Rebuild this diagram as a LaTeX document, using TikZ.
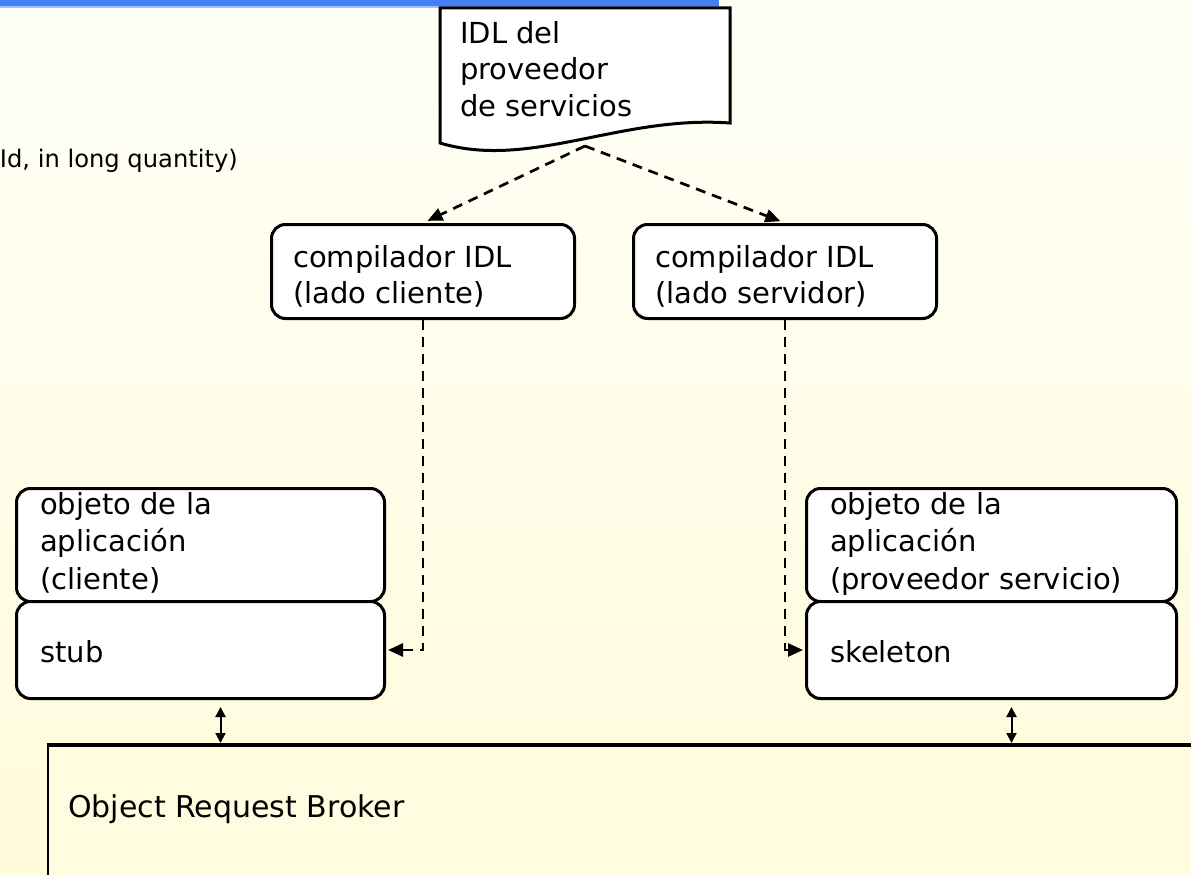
\documentclass[tikz,border=0pt]{standalone}
\usepackage{fontspec}
\setmainfont{DejaVu Sans}
\usetikzlibrary{arrows.meta,calc}
\definecolor{bgtop}{RGB}{255,255,246}
\definecolor{bgbot}{RGB}{255,251,220}
\definecolor{orbfill}{RGB}{255,252,224}
\definecolor{barblue}{RGB}{66,128,245}
\definecolor{barlight}{RGB}{160,190,250}
\begin{document}
\begin{tikzpicture}[x=1pt,y=-1pt,
  box/.style={draw=black, line width=3pt, fill=white, rounded corners=14pt, inner sep=0pt, anchor=north west},
  txt/.style={anchor=north west, inner sep=0pt, align=left, font=\fontsize{29}{36.5}\selectfont},
  objtxt/.style={anchor=north west, inner sep=0pt, align=left, font=\fontsize{29}{37.5}\selectfont},
  onetxt/.style={anchor=base west, inner sep=0pt, font=\fontsize{29}{36}\selectfont},
  dasharrow/.style={line width=2.7pt, dash pattern=on 10pt off 7pt, -{Triangle[length=15pt,width=13pt]}},
  solidarrow/.style={line width=2pt, {Triangle[length=10pt,width=10pt]}-{Triangle[length=10pt,width=10pt]}},
]
\useasboundingbox (0,0) rectangle (1191,875);
\clip (0,0) rectangle (1191,875);
\shade[top color=bgtop, bottom color=bgbot] (0,0) rectangle (1191,875);
% top bar
\fill[barblue] (0,0) rectangle (719,6.5);
\draw[barlight, line width=1.5pt] (0,7) -- (719,7);

% cut-off text at left
\node[anchor=base east, inner sep=0pt, font=\fontsize{24.2}{29}\selectfont] (cut) at (238,167) {Id, in long quantity)};

% document shape
\draw[line width=3pt, fill=white] (440,8) -- (730,8) -- (730,123)
  .. controls (620,115) and (530,170) .. (440,143) -- cycle;
\coordinate (docbot) at (585,146);
\node[txt] (doctxt) at (460,21) {IDL del\\proveedor\\de servicios};

% compilers
\node[box, minimum width=303pt, minimum height=94pt] (cL) at (270,223) {};
\node[txt] (cLt) at (293,245) {compilador IDL\\(lado cliente)};
\node[box, minimum width=303pt, minimum height=94pt] (cR) at (632,223) {};
\node[txt] (cRt) at (655,245) {compilador IDL\\(lado servidor)};

% application objects
\node[box, minimum width=368pt, minimum height=113pt] (objL) at (15,487) {};
\node[objtxt] (objLt) at (40,492) {objeto de la\\aplicación\\(cliente)};
\node[box, minimum width=368pt, minimum height=97pt] (stub) at (15,600) {};
\node[onetxt] (stubt) at (40,662) {stub};

\node[box, minimum width=370pt, minimum height=113pt] (objR) at (805,487) {};
\node[objtxt] (objRt) at (830,492) {objeto de la\\aplicación\\(proveedor servicio)};
\node[box, minimum width=370pt, minimum height=97pt] (skel) at (805,600) {};
\node[onetxt] (skelt) at (830,662) {skeleton};

% ORB
\node[draw=black, line width=2pt, fill=orbfill, anchor=north west, inner sep=0pt,
      minimum width=1170pt, minimum height=160pt] (orb) at (47,745) {};
\draw[line width=3.5pt] (orb.north west) -- (orb.north east);
\node[anchor=base west, inner sep=0pt, font=\fontsize{30}{36}\selectfont] (orbt) at (68,817) {Object Request Broker};

% connectors
\draw[dasharrow, shorten >=5pt] (docbot) -- (cL.north);
\draw[dasharrow, shorten >=5pt] (docbot) -- (cR.north);
\draw[dasharrow, shorten >=2pt] (cL.south) |- (stub.east);
\draw[dasharrow, shorten >=2pt] (cR.south) |- (skel.west);

\coordinate (l1) at ([xshift=20pt,yshift=-7pt]stub.south);
\coordinate (r1) at ([xshift=20pt,yshift=-7pt]skel.south);
\draw[solidarrow, shorten >=2pt] (l1) -- (l1 |- orb.north);
\draw[solidarrow, shorten >=2pt] (r1) -- (r1 |- orb.north);
\end{tikzpicture}
\end{document}
